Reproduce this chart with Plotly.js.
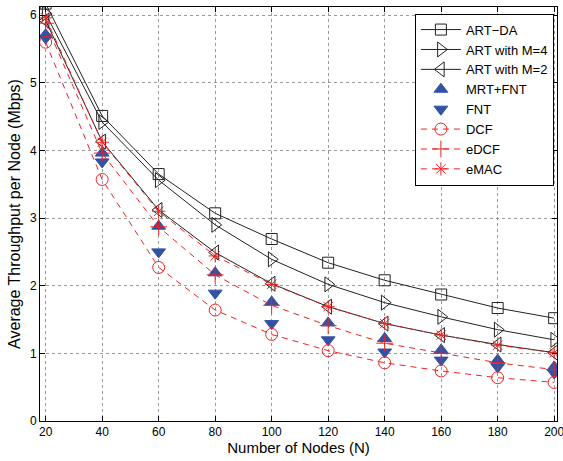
<!DOCTYPE html>
<html>
<head>
<meta charset="utf-8">
<script src="https://cdn.plot.ly/plotly-3.0.1.min.js"></script>
<style>html,body{margin:0;padding:0;background:#fff;overflow:hidden;}#chart{width:563px;height:461px;}</style>
</head>
<body>
<div id="chart"></div>
<script>
var nodes = [20, 40, 60, 80, 100, 120, 140, 160, 180, 200];
var artDA = [6.17, 4.51, 3.65, 3.07, 2.69, 2.34, 2.08, 1.87, 1.67, 1.52];
var artM4 = [6.02, 4.42, 3.56, 2.90, 2.39, 2.02, 1.75, 1.54, 1.35, 1.20];
var artM2 = [5.92, 4.13, 3.12, 2.49, 2.03, 1.69, 1.44, 1.27, 1.13, 1.01];
var mrtFnt = [5.71, 3.96, 2.88, 2.19, 1.76, 1.45, 1.22, 1.05, 0.90, 0.80];
var fnt = [5.66, 3.83, 2.50, 1.89, 1.44, 1.20, 1.02, 0.90, 0.80, 0.71];
var dcf = [5.60, 3.57, 2.27, 1.64, 1.28, 1.04, 0.86, 0.74, 0.64, 0.57];
var edcf = [5.88, 3.96, 2.87, 2.16, 1.71, 1.41, 1.15, 1.00, 0.86, 0.76];
var emac = [5.96, 4.12, 3.10, 2.44, 2.02, 1.69, 1.44, 1.27, 1.12, 1.01];
var xTicks = [20, 40, 60, 80, 100, 120, 140, 160, 180, 200];
var yTicks = [0, 1, 2, 3, 4, 5, 6];

var BLUE = '#3352a6', RED = '#ee2222', BLACK = '#222222';
function tr(name, y, color, dash, symbol, size, mode) {
  return {x: nodes, y: y, name: name, type: 'scatter', mode: mode || 'lines+markers',
    line: {color: color, width: 1, dash: dash},
    marker: {symbol: symbol, size: size, color: color, line: {color: color, width: 1}},
    cliponaxis: true};
}
var data = [
  tr('ART\u2212DA', artDA, BLACK, 'solid', 'square-open', 11),
  tr('ART with M=4', artM4, BLACK, 'solid', 'triangle-right-open', 13),
  tr('ART with M=2', artM2, BLACK, 'solid', 'triangle-left-open', 13),
  tr('MRT+FNT', mrtFnt, BLUE, 'solid', 'triangle-up', 12, 'markers'),
  tr('FNT', fnt, BLUE, 'solid', 'triangle-down', 12, 'markers'),
  tr('DCF', dcf, RED, '6px,5px', 'circle-open', 12),
  tr('eDCF', edcf, RED, '6px,5px', 'cross-thin-open', 12),
  tr('eMAC', emac, RED, '6px,5px', 'asterisk-open', 11)
];
var axisCommon = {showline: true, linecolor: '#000', linewidth: 1, mirror: 'ticks',
  ticks: 'inside', ticklen: 5, tickcolor: '#000', showgrid: true, gridcolor: '#999',
  griddash: 'dot', gridwidth: 1, zeroline: false, ticklabeloverflow: 'allow',
  tickfont: {family: 'Liberation Sans, Arial, sans-serif', size: 12, color: '#000'}};
var layout = {
  width: 563, height: 461,
  margin: {l: 40, r: 6, t: 7, b: 40},
  paper_bgcolor: '#fff', plot_bgcolor: '#fff',
  font: {family: 'Liberation Sans, Arial, sans-serif', color: '#000'},
  xaxis: Object.assign({}, axisCommon, {range: [18, 201], tickvals: xTicks,
    title: {text: 'Number of Nodes (N)', font: {size: 15}, standoff: 4}}),
  yaxis: Object.assign({}, axisCommon, {range: [0, 6.12], tickvals: yTicks,
    title: {text: 'Average Throughput per Node (Mbps)', font: {size: 16}, standoff: 5}}),
  legend: {x: 0.994, xanchor: 'right', y: 0.984, yanchor: 'top',
    bgcolor: '#fff', bordercolor: '#000', borderwidth: 1,
    font: {size: 13, family: 'Liberation Sans, Arial, sans-serif'},
    tracegroupgap: 0, itemwidth: 40},
  showlegend: true
};
Plotly.newPlot('chart', data, layout, {staticPlot: true, displayModeBar: false});
</script>
</body>
</html>
